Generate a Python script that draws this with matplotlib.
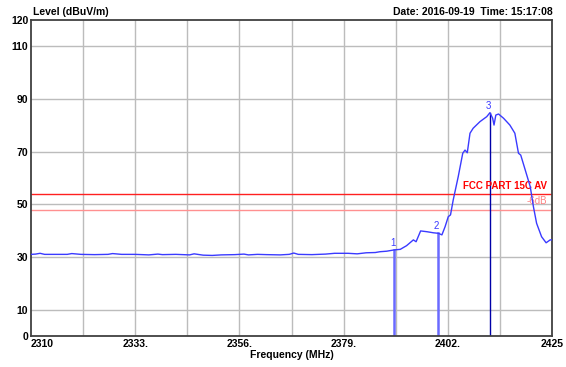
import matplotlib.pyplot as plt

plt.rcParams['font.family'] = ['Liberation Sans', 'DejaVu Sans']

# measured trace (MHz, dBuV/m)
freq = [2310, 2311, 2312, 2313, 2314, 2318, 2319, 2321, 2324, 2327, 2328, 2330,
        2333, 2336, 2338, 2339, 2342, 2345, 2346, 2348, 2350, 2352, 2355, 2357,
        2358, 2360, 2362, 2365, 2367, 2368, 2369, 2372, 2375, 2377, 2380, 2382,
        2384, 2386, 2387, 2388.5, 2390.2, 2391.5, 2392.9,
        2394.4, 2395.0, 2396.0, 2397.4, 2398.8, 2399.9, 2400.7, 2401.4, 2402.1,
        2402.6, 2403.2, 2404.3, 2405.3, 2405.8, 2406.3, 2406.9, 2407.6, 2409.1,
        2410.6, 2411.3, 2411.9, 2412.2, 2412.6, 2413.2, 2414.3, 2415.7, 2416.8,
        2417.6, 2418.1, 2419.1, 2420.2, 2420.9, 2421.6, 2422.7, 2423.7, 2424.6, 2425]
level = [31.0, 31.1, 31.4, 31.0, 31.0, 31.0, 31.3, 31.0, 30.9, 31.0, 31.3, 31.0,
         31.0, 30.8, 31.1, 30.9, 31.0, 30.8, 31.2, 30.7, 30.6, 30.8, 30.9, 31.1,
         30.8, 31.0, 30.9, 30.8, 31.0, 31.5, 31.0, 30.9, 31.1, 31.4, 31.4, 31.2,
         31.6, 31.7, 32.0, 32.2, 32.7, 32.9, 34.3,
         36.5, 35.8, 39.9, 39.6, 39.2, 39.0, 38.4, 41.5, 45.3,
         46.0, 51.7, 60.5, 69.4, 70.6, 69.6, 77.0, 78.9, 81.4,
         83.3, 84.8, 82.7, 80.1, 83.9, 84.3, 82.7, 80.1, 77.0,
         69.4, 68.7, 63.0, 56.7, 49.1, 42.8, 37.7, 35.4, 36.5, 36.5]

# markers: (label, frequency, level)
marker_ids = ['1', '2', '3']
marker_freq = [2390.2, 2399.9, 2411.3]
marker_level = [32.7, 39.0, 84.8]

limit_av = 54
limit_margin = 48

xticks = [2310, 2333, 2356, 2379, 2402, 2425]
xtick_labels = ['2310', '2333.', '2356.', '2379.', '2402.', '2425']
yticks = [0, 10, 30, 50, 70, 90, 110, 120]

fig = plt.figure(figsize=(5.66, 3.67), dpi=100)
ax = fig.add_axes([31 / 566, 31 / 367, 521 / 566, 316 / 367])

# grid
for k in range(1, 10):
    ax.axvline(2310 + 11.5 * k, color='#bcbcbc', lw=1, zorder=0)
for y in [10, 30, 50, 70, 90, 110]:
    ax.axhline(y, color='#bcbcbc', lw=1, zorder=0)

# limit lines
ax.axhline(limit_av, color='#ff2020', lw=1, zorder=1)
ax.axhline(limit_margin, color='#ff9090', lw=1, zorder=1)
ax.text(2424, limit_av + 1.2, 'FCC PART 15C AV', color='#ff0000', fontsize=7,
        fontweight='bold', ha='right', va='bottom')
ax.text(2424, limit_margin + 1.2, '-6dB', color='#ff8080', fontsize=7,
        ha='right', va='bottom')

ax.plot(freq, level, color='#3a3aff', lw=1, zorder=3)

# marker lines and labels
for i, (m, f, l) in enumerate(zip(marker_ids, marker_freq, marker_level)):
    if i < 2:
        ax.plot([f, f], [0, l], color='#6a6aff', lw=1.8, zorder=2)
    else:
        ax.plot([f, f], [0, l], color='#0000a8', lw=1, zorder=2)
    ax.text(f - 0.4, l + 0.8, m, color='#3a3aff', fontsize=7, ha='center', va='bottom')

ax.set_xlim(2310, 2425)
ax.set_ylim(0, 120)
ax.set_xticks(xticks)
ax.set_xticklabels(xtick_labels)
ax.set_yticks(yticks)
ax.tick_params(length=0, labelsize=7.5, pad=2)
for lab in ax.get_xticklabels() + ax.get_yticklabels():
    lab.set_fontweight('bold')
ax.get_xticklabels()[0].set_ha('left')
ax.get_xticklabels()[-1].set_ha('center')

for s in ax.spines.values():
    s.set_color('#404040')
    s.set_linewidth(1.3)

ax.set_xlabel('Frequency (MHz)', fontsize=7.5, fontweight='bold', labelpad=1)
fig.text(33 / 566, 1 - 12 / 367, 'Level (dBuV/m)', fontsize=7.5, fontweight='bold',
         va='center', ha='left')
fig.text(553 / 566, 1 - 12 / 367, 'Date: 2016-09-19  Time: 15:17:08', fontsize=7.5,
         fontweight='bold', va='center', ha='right')

fig.savefig('out.png', dpi=100)
